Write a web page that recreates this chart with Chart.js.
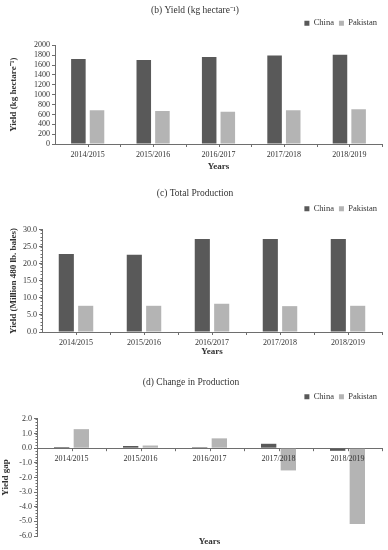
<!DOCTYPE html>
<html lang="en">
<head>
<meta charset="UTF-8">
<title>Cotton yield and production: China vs Pakistan</title>
<script src="https://cdn.jsdelivr.net/npm/chart.js"></script>
<style>
    html, body { margin: 0; padding: 0; background: #fff; }
    .panel { position: relative; width: 388px; }
    #p1 { height: 180px; }
    #p2 { height: 185px; }
    #p3 { height: 185px; }
</style>
</head>
<body>
<div class="panel" id="p1"><canvas id="yieldChart"></canvas></div>
<div class="panel" id="p2"><canvas id="prodChart"></canvas></div>
<div class="panel" id="p3"><canvas id="changeChart"></canvas></div>

<script>
// values
const seasons = ['2014/2015', '2015/2016', '2016/2017', '2017/2018', '2018/2019'];
const yieldChina = [1725, 1705, 1765, 1795, 1810];
const yieldPakistan = [683, 670, 655, 683, 703];
const prodChina = [22.9, 22.7, 27.3, 27.3, 27.3];
const prodPakistan = [7.7, 7.7, 8.3, 7.6, 7.7];
const changeChina = [0.08, 0.15, 0.07, 0.3, -0.18];
const changePakistan = [1.3, 0.18, 0.67, -1.52, -5.18];

const SERIF = "'Liberation Serif', 'Times New Roman', serif";
const DARK = '#595959';
const LIGHT = '#b4b4b4';
const AXIS = '#6e6e6e';
const TEXT = '#333333';

// small tick marks: x axis at every half category, y axis minor steps
const tickMarks = {
    id: 'tickMarks',
    afterDatasetsDraw(chart, args, opts) {
        const ctx = chart.ctx;
        const x = chart.scales.x;
        const y = chart.scales.y;
        const y0 = y.getPixelForValue(0);
        const half = (x.getPixelForValue(1) - x.getPixelForValue(0)) / 2;
        ctx.save();
        ctx.strokeStyle = AXIS;
        ctx.lineWidth = 1;
        ctx.beginPath();
        for (let i = 0; i < seasons.length; i++) {
            const c = x.getPixelForValue(i);
            [c, c + half].forEach(px => {
                ctx.moveTo(Math.round(px) + 0.5, y0);
                ctx.lineTo(Math.round(px) + 0.5, y0 + 3);
            });
        }
        if (opts.minor) {
            const left = Math.round(y.left + y.width) + 0.5;
            for (let v = y.min; v <= y.max + 1e-9; v += opts.minor) {
                const py = Math.round(y.getPixelForValue(v)) + 0.5;
                ctx.moveTo(left - 2, py);
                ctx.lineTo(left, py);
            }
        }
        ctx.stroke();
        ctx.restore();
    }
};

// extra room under the legend
const legendGap = {
    id: 'legendGap',
    beforeLayout(chart, args, opts) {
        const lg = chart.legend;
        if (lg && !lg._gapped) {
            const fit = lg.fit;
            lg.fit = function () { fit.call(this); this.height += opts.gap; };
            lg._gapped = true;
        }
    }
};

function bars(china, pakistan) {
    return {
        labels: seasons,
        datasets: [
            { label: 'China', data: china, backgroundColor: DARK, categoryPercentage: 0.57, barPercentage: 0.78 },
            { label: 'Pakistan', data: pakistan, backgroundColor: LIGHT, categoryPercentage: 0.57, barPercentage: 0.78 }
        ]
    };
}

function baseOptions(o) {
    return {
        responsive: true,
        maintainAspectRatio: false,
        animation: false,
        layout: { padding: { left: o.padLeft, right: 6, top: 0, bottom: o.padBottom } },
        plugins: {
            title: {
                display: true,
                text: o.title,
                color: TEXT,
                font: { family: SERIF, size: 9.5, weight: 'normal' },
                padding: { top: o.titleTop, bottom: o.titleBottom }
            },
            legend: {
                display: true,
                align: 'end',
                labels: {
                    color: TEXT,
                    font: { family: SERIF, size: 8.5 },
                    boxWidth: 5,
                    boxHeight: 5,
                    padding: 5
                }
            },
            tooltip: { enabled: false },
            tickMarks: { minor: o.minor },
            legendGap: { gap: o.gap }
        },
        scales: {
            x: {
                grid: { display: false, drawTicks: false },
                border: { display: true, color: AXIS, width: 1 },
                ticks: { color: TEXT, font: { family: SERIF, size: 8 }, padding: 6, maxRotation: 0, autoSkip: false },
                title: { display: true, text: 'Years', color: TEXT, font: { family: SERIF, size: 9, weight: 'bold' }, padding: { top: 2, bottom: 3 } },
                afterFit(s) { s.height = o.xHeight; }
            },
            y: {
                min: o.min,
                max: o.max,
                grid: { display: true, drawOnChartArea: false, drawTicks: true, tickLength: 3, color: AXIS },
                border: { display: true, color: AXIS, width: 1 },
                ticks: { stepSize: o.step, autoSkip: false, color: TEXT, font: { family: SERIF, size: 8 }, padding: 2, callback: o.fmt },
                title: { display: true, text: o.yTitle, color: TEXT, font: { family: SERIF, size: 9, weight: 'bold' }, padding: { top: 0, bottom: 2 } },
                afterFit(s) { s.width = o.yWidth; }
            }
        }
    };
}

// (b) Yield
new Chart(document.getElementById('yieldChart'), {
    type: 'bar',
    data: bars(yieldChina, yieldPakistan),
    options: baseOptions({
        title: '(b) Yield (kg hectare\u207B\u00B9)',
        yTitle: 'Yield (kg hectare\u207B\u00B9)',
        min: 0, max: 2000, step: 200, minor: null,
        fmt: v => v,
        padLeft: 8, yWidth: 47, padBottom: 5, xHeight: 31,
        titleTop: 5, titleBottom: -2.5, gap: 8
    }),
    plugins: [tickMarks, legendGap]
});

// (c) Total Production
new Chart(document.getElementById('prodChart'), {
    type: 'bar',
    data: bars(prodChina, prodPakistan),
    options: baseOptions({
        title: '(c) Total Production',
        yTitle: 'Yield (Million 480 lb. bales)',
        min: 0, max: 30, step: 5, minor: 1,
        fmt: v => v.toFixed(1),
        padLeft: 8, yWidth: 34, padBottom: 5, xHeight: 28,
        titleTop: 8, titleBottom: 0, gap: 7
    }),
    plugins: [tickMarks, legendGap]
});

// (d) Change in Production - category axis sits on zero, "Years" on a bare bottom axis
const changeOpts = baseOptions({
    title: '(d) Change in Production',
    yTitle: 'Yield gap',
    min: -6, max: 2, step: 1, minor: 0.2,
    fmt: v => v.toFixed(1),
    padLeft: 0, yWidth: 37, padBottom: 2, xHeight: 13,
    titleTop: 12, titleBottom: -1, gap: 8
});
changeOpts.scales.x.position = { y: 0 };
changeOpts.scales.x.ticks.z = 1;
changeOpts.scales.x.title = { display: false };
changeOpts.scales.x.afterFit = undefined;
changeOpts.scales.x2 = {
    type: 'category',
    labels: seasons,
    position: 'bottom',
    grid: { display: false, drawTicks: false },
    border: { display: false },
    ticks: { display: false },
    title: { display: true, text: 'Years', color: TEXT, font: { family: SERIF, size: 9, weight: 'bold' }, padding: { top: 0, bottom: 1 } },
    afterFit(s) { s.height = 12; }
};
new Chart(document.getElementById('changeChart'), {
    type: 'bar',
    data: bars(changeChina, changePakistan),
    options: changeOpts,
    plugins: [tickMarks, legendGap]
});
</script>
</body>
</html>
